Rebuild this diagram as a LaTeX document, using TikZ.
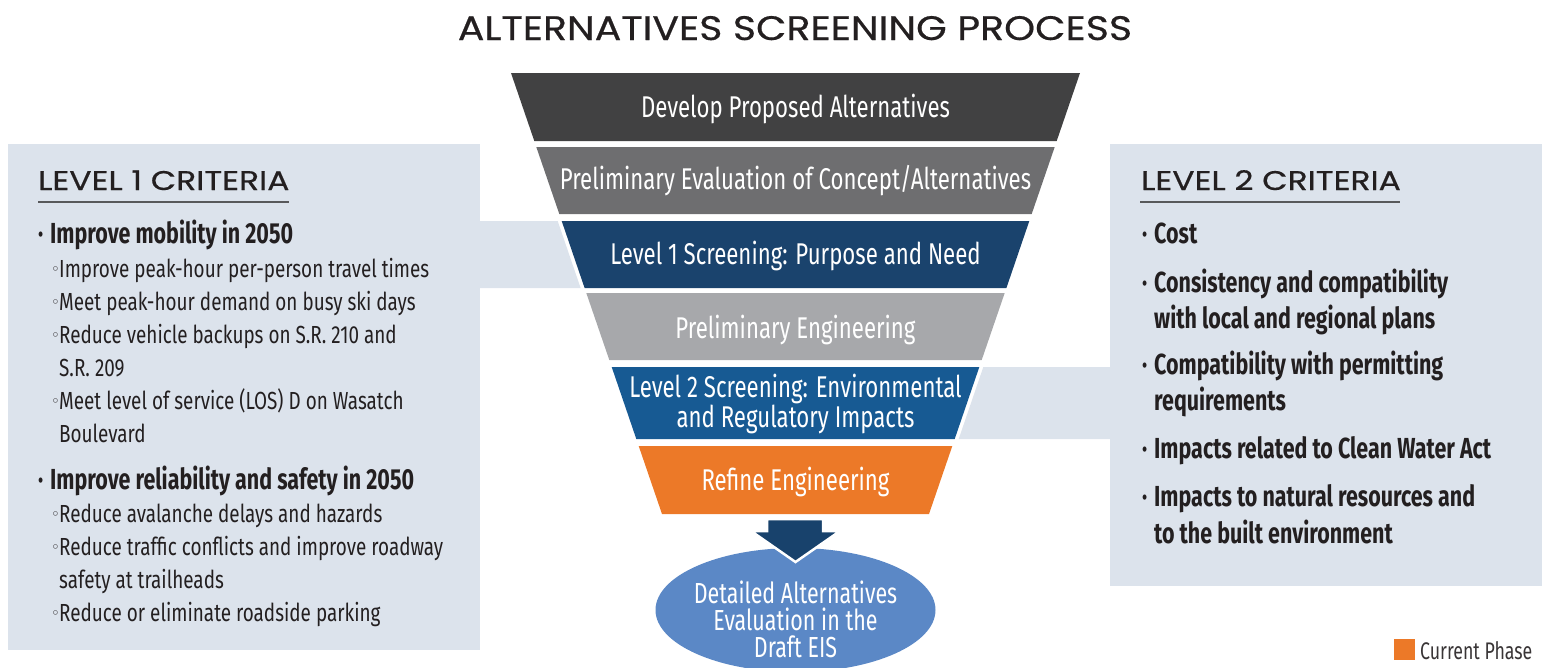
\documentclass[tikz,border=0pt]{standalone}
\usepackage{fontspec}
\setmainfont{Fira Sans}
\newfontfamily\cond{Fira Sans}[FakeStretch=0.74]
\newfontfamily\condsub{Fira Sans}[FakeStretch=0.765]
\newfontfamily\headf{Poppins}[FakeStretch=1.16,FakeBold=0.5]
\newfontfamily\hdrf{Poppins}[FakeStretch=1.22,FakeBold=0.5]
\newfontfamily\symf{DejaVu Sans}
\definecolor{bandA}{HTML}{414142}
\definecolor{bandB}{HTML}{6E6E70}
\definecolor{bandC}{HTML}{1A436D}
\definecolor{bandD}{HTML}{A7A8AB}
\definecolor{bandE}{HTML}{175A93}
\definecolor{bandF}{HTML}{EC7928}
\definecolor{arrowc}{HTML}{18426C}
\definecolor{ellc}{HTML}{5B88C6}
\definecolor{panelc}{HTML}{DCE3EC}
\definecolor{txtc}{HTML}{231F20}
\definecolor{ulc}{HTML}{58595B}
\newcommand\sbul{\makebox[8pt][l]{\raisebox{2.2pt}{\symf\fontsize{15}{15}\selectfont ◦}}}
\newcommand\bbul{\makebox[12pt][l]{·}}
\begin{document}
\begin{tikzpicture}[x=1pt,y=-1pt,
  ftxt/.style={text=white, font=\cond\fontsize{30}{26}\selectfont, inner sep=0, anchor=base, align=center},
  btxt/.style={anchor=base west, inner sep=0, text=txtc, font=\cond\bfseries\fontsize{29}{29}\selectfont},
  stxt/.style={anchor=base west, inner sep=0, text=txtc, font=\condsub\fontsize{24.7}{24.7}\selectfont},
  hdr/.style={anchor=base west, inner sep=0, text=txtc, font=\hdrf\fontsize{27}{27}\selectfont},
  uline/.style={draw=ulc, line width=1.6pt}]
\useasboundingbox (0,0) rectangle (1553,667);
% panels
\fill[panelc] (8,144) rectangle (480,650);
\fill[panelc] (479,221) -- (557.7,221) -- (580.6,288) -- (479,288) -- cycle;
\fill[panelc] (1110,144) rectangle (1542,586);
\fill[panelc] (983.3,367) -- (1111,367) -- (1111,439) -- (958.7,439) -- cycle;
% funnel bands
\fill[bandA] (511,73) -- (1080,73) -- (1056.7,141) -- (534.3,141) -- cycle;
\fill[bandB] (536.3,147) -- (1054.7,147) -- (1031.7,214) -- (559.3,214) -- cycle;
\fill[bandC] (561.7,221) -- (1029.3,221) -- (1006.4,288) -- (584.6,288) -- cycle;
\fill[bandD] (586.3,293) -- (1004.7,293) -- (981.7,360) -- (609.3,360) -- cycle;
\fill[bandE] (611.7,367) -- (979.3,367) -- (954.7,439) -- (636.3,439) -- cycle;
\fill[bandF] (638.7,446) -- (952.3,446) -- (929,514) -- (662,514) -- cycle;
\node[ftxt] (b1) at (795.5,117) {Develop Proposed Alternatives};
\node[ftxt] (b2) at (795.5,189) {Preliminary Evaluation of Concept/Alternatives};
\node[ftxt] (b3) at (795.5,264) {Level 1 Screening: Purpose and Need};
\node[ftxt] (b4) at (795.5,338) {Preliminary Engineering};
\node[ftxt, anchor=center] (b5) at (795.5,404) {Level 2 Screening: Environmental\\and Regulatory Impacts};
\node[ftxt] (b6) at (795.5,490) {Refine Engineering};
% ellipse and arrow
\fill[ellc] (795.5,610) ellipse [x radius=140, y radius=62];
\node[ftxt, anchor=center, font=\cond\fontsize{29}{27}\selectfont] (ell) at (795.5,619) {Detailed Alternatives\\Evaluation in the\\Draft EIS};
\filldraw[fill=arrowc, draw=white, line width=2.5pt, line join=miter]
  (767,519) -- (823,519) -- (823,531) -- (840,531) -- (795.5,562) -- (751,531) -- (767,531) -- cycle;
% title
\node[anchor=base, inner sep=0, text=txtc, font=\headf\fontsize{34}{34}\selectfont] (title) at (795,40) {ALTERNATIVES SCREENING PROCESS};
% level 1
\node[hdr] (h1) at (38,190) {LEVEL 1 CRITERIA};
\draw[uline] (38,202) -- (289,202);
\node[btxt] (l1) at (38,243) {\bbul Improve mobility in 2050};
\node[stxt] (l2) at (51,277) {\sbul Improve peak-hour per-person travel times};
\node[stxt] (l3) at (51,310) {\sbul Meet peak-hour demand on busy ski days};
\node[stxt] (l4) at (51,343) {\sbul Reduce vehicle backups on S.R. 210 and};
\node[stxt] (l5) at (59,376) {S.R. 209};
\node[stxt] (l6) at (51,409) {\sbul Meet level of service (LOS) D on Wasatch};
\node[stxt] (l7) at (59,442) {Boulevard};
\node[btxt] (l8) at (38,489) {\bbul Improve reliability and safety in 2050};
\node[stxt] (l9) at (51,522) {\sbul Reduce avalanche delays and hazards};
\node[stxt] (l10) at (51,555) {\sbul Reduce traffic conflicts and improve roadway};
\node[stxt] (l11) at (59,588) {safety at trailheads};
\node[stxt] (l12) at (51,621) {\sbul Reduce or eliminate roadside parking};
% level 2
\node[hdr] (h2) at (1141,190) {LEVEL 2 CRITERIA};
\draw[uline] (1140,202) -- (1400,202);
\node[btxt] (r1) at (1142,243) {\bbul Cost};
\node[btxt] (r2) at (1142,292) {\bbul Consistency and compatibility};
\node[btxt] (r3) at (1154,328) {with local and regional plans};
\node[btxt] (r4) at (1142,374) {\bbul Compatibility with permitting};
\node[btxt] (r5) at (1154,410) {requirements};
\node[btxt] (r6) at (1142,458) {\bbul Impacts related to Clean Water Act};
\node[btxt] (r7) at (1142,506) {\bbul Impacts to natural resources and};
\node[btxt] (r8) at (1154,543) {to the built environment};
% legend
\fill[bandF] (1394,639) rectangle (1415,660) coordinate (lgsq);
\node[anchor=base west, inner sep=0, text=txtc!90, font=\cond\fontsize{24}{24}\selectfont] (lg) at (1420,659) {Current Phase};
\end{tikzpicture}
\end{document}
